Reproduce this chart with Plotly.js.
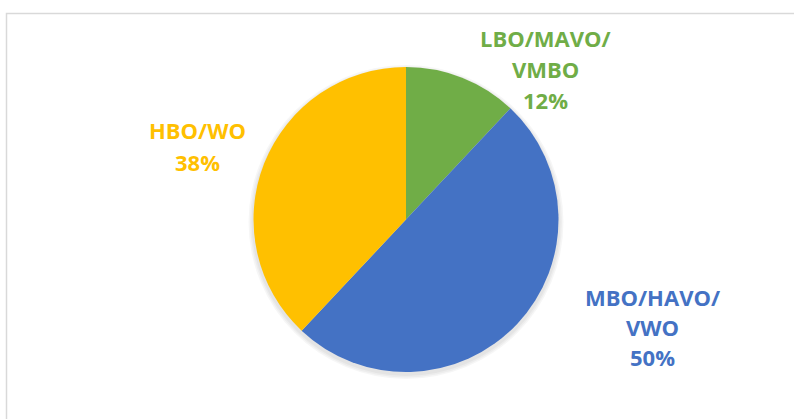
<!DOCTYPE html>
<html>
<head>
<meta charset="utf-8">
<script src="https://cdn.plot.ly/plotly-3.0.1.min.js"></script>
<style>html,body{margin:0;padding:0;background:#fff;}#chart{width:794px;height:419px;}</style>
</head>
<body>
<div id="chart"></div>
<script>
// Data
var categories = ["LBO/MAVO/VMBO", "MBO/HAVO/VWO", "HBO/WO"];
var labelLines = [["LBO/MAVO/", "VMBO"], ["MBO/HAVO/", "VWO"], ["HBO/WO"]];
var values = [12, 50, 38];
var colors = ["#70AD47", "#4472C4", "#FFC000"];

var W = 794, H = 419;
function px(x) { return x / W; }
function py(y) { return 1 - y / H; }

// Label anchor positions (px): center x, first line y, line step
var labelPos = [
  {x: 545, y: 38, step: 31},
  {x: 652, y: 297, step: 30},
  {x: 197, y: 130, step: 32}
];

var total = values.reduce(function(a, b) { return a + b; }, 0);
var annotations = [];
categories.forEach(function(c, i) {
  var lines = labelLines[i].concat([Math.round(values[i] / total * 100) + "%"]);
  lines.forEach(function(t, j) {
    annotations.push({
      xref: "paper", yref: "paper",
      x: px(labelPos[i].x), y: py(labelPos[i].y + j * labelPos[i].step),
      xanchor: "center", yanchor: "middle",
      text: "<b>" + t + "</b>", showarrow: false,
      font: {family: "'Open Sans', 'Noto Sans', sans-serif", size: 22, color: colors[i]}
    });
  });
});

var cx = 406, cy = 219.5, r = 152.5;
var shapes = [
  {type: "rect", xref: "paper", yref: "paper", x0: px(6.5), x1: 1.02, y0: -0.02, y1: py(13.5),
   line: {color: "#d9d9d9", width: 1.5}, fillcolor: "rgba(0,0,0,0)", layer: "below"}
];
[6, 4.5, 3].forEach(function(d, k) {
  shapes.push({type: "circle", xref: "paper", yref: "paper",
    x0: px(cx - r - d + 1), x1: px(cx + r + d - 1), y0: py(cy + r + d + 1), y1: py(cy - r - d + 4),
    line: {width: 0}, fillcolor: "rgba(0,0,0,0.035)", layer: "below"});
});

var trace = {
  type: "pie",
  labels: categories,
  values: values,
  sort: false,
  direction: "clockwise",
  rotation: 0,
  textinfo: "none",
  hoverinfo: "label+percent",
  marker: {colors: colors, line: {color: "#ffffff", width: 0}},
  domain: {x: [px(cx - r), px(cx + r)], y: [py(cy + r), py(cy - r)]},
  showlegend: false
};

var layout = {
  width: W, height: H,
  margin: {l: 0, r: 0, t: 0, b: 0},
  paper_bgcolor: "#ffffff",
  showlegend: false,
  annotations: annotations,
  shapes: shapes
};

Plotly.newPlot("chart", [trace], layout, {displayModeBar: false, staticPlot: true});
</script>
</body>
</html>
